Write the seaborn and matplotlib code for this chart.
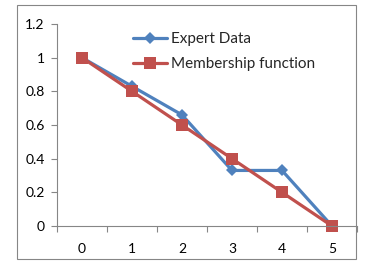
import matplotlib
matplotlib.use("Agg")
import matplotlib.pyplot as plt
import seaborn as sns
import pandas as pd
from matplotlib.patches import Rectangle

categories = [0, 1, 2, 3, 4, 5]
expert_data = [1.0, 0.83, 0.66, 0.33, 0.33, 0.0]
membership = [1.0, 0.8, 0.6, 0.4, 0.2, 0.0]
y_ticks = [0, 0.2, 0.4, 0.6, 0.8, 1, 1.2]
y_labels = ["0", "0.2", "0.4", "0.6", "0.8", "1", "1.2"]

sns.set_style("white")
plt.rcParams["font.family"] = ["Lato", "DejaVu Sans"]

df = pd.DataFrame({"x": categories, "Expert Data": expert_data, "Membership function": membership})

W, H = 379, 271
fig = plt.figure(figsize=(W / 100, H / 100), dpi=100)
ax = fig.add_axes([57 / W, 1 - 226 / H, 300 / W, 202 / H])

sns.lineplot(data=df, x="x", y="Expert Data", ax=ax, color="#4F81BD", linewidth=2.3,
             marker="D", markersize=6, markeredgewidth=0, label="Expert Data", clip_on=False)
sns.lineplot(data=df, x="x", y="Membership function", ax=ax, color="#C0504D", linewidth=2.3,
             marker="s", markersize=8, markeredgewidth=0, label="Membership function", clip_on=False)

ax.set_xlim(-0.5, 5.5)
ax.set_ylim(0, 1.2)
ax.set_yticks(y_ticks)
ax.set_yticklabels(y_labels)
ax.set_xticks(categories)
ax.set_xticklabels([str(c) for c in categories])
ax.set_xticks([c - 0.5 for c in categories] + [5.5], minor=True)
ax.tick_params(axis="x", which="major", length=0, pad=12, labelsize=10, labelcolor="black")
ax.tick_params(axis="x", which="minor", length=4, width=0.8, color="#868686", direction="out", bottom=True)
ax.tick_params(axis="y", which="major", length=4, width=0.8, color="#868686", direction="out", left=True, pad=5,
               labelsize=10, labelcolor="black")
ax.set_xlabel("")
ax.set_ylabel("")
ax.grid(False)
for s in ["top", "right"]:
    ax.spines[s].set_visible(False)
for s in ["left", "bottom"]:
    ax.spines[s].set_color("#868686")
    ax.spines[s].set_linewidth(0.8)

ax.legend(loc="upper left", bbox_to_anchor=(133 / W, 1 - 32 / H), bbox_transform=fig.transFigure,
          frameon=False, fontsize=11, borderpad=0, borderaxespad=0, handlelength=2.2,
          handletextpad=0.3, labelspacing=0.75)

fig.patches.append(Rectangle((17 / W, 1 - 259 / H), 339 / W, 254 / H, transform=fig.transFigure,
                             fill=False, edgecolor="#868686", linewidth=0.8))

fig.savefig("out.png", dpi=100)
